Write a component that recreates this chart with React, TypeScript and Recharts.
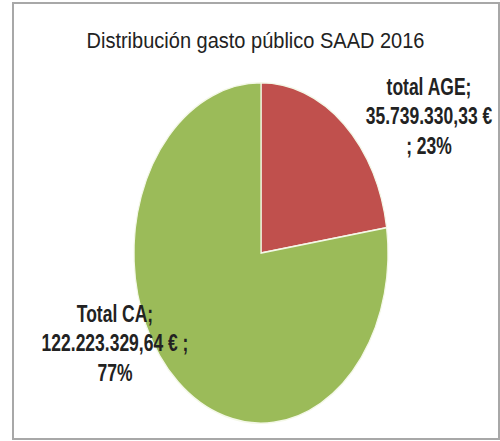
import { PieChart, Pie, Cell } from 'recharts';

const names = ['total AGE', 'Total CA'];
const values = [35739330.33, 122223329.64];
const colors = ['#C0504D', '#9BBB59'];

// the source picture is stretched vertically
const S = 1.34;

const chartData = names.map((name, i) => ({ name, value: values[i] }));

const fmt = (v: number) => {
    const [int, dec] = v.toFixed(2).split('.');
    return int.replace(/\B(?=(\d{3})+(?!\d))/g, '.') + ',' + dec;
};

// label block placement (final px, relative to pie centre)
const labelPos = [
    { dx: 168, dy: 95 - 253, breakAfterEuro: true },
    { dx: -146, dy: 322 - 253, breakAfterEuro: false },
];

const renderLabel = (props: any) => {
    const { cx, cy, index, name, value, percent } = props;
    const p = labelPos[index];
    const pct = Math.round(percent * 100) + '%';
    const lines = p.breakAfterEuro
        ? [name + ';', fmt(value) + ' €', '; ' + pct]
        : [name + ';', fmt(value) + ' € ;', pct];
    return (
        <text
            x={cx + p.dx}
            y={cy + p.dy / S}
            textAnchor="middle"
            fontFamily="'Liberation Sans', Arial, sans-serif"
            fontWeight="bold"
            fontSize={17.5}
            fill="#222"
        >
            {lines.map((l, i) => (
                <tspan key={i} x={cx + p.dx} dy={i === 0 ? 0 : 29.5 / S}>{l}</tspan>
            ))}
        </text>
    );
};

const App = () => {
  return (
    <div style={{ position: 'absolute', left: 0, top: 0, width: 500, height: 441, background: '#fff', overflow: 'hidden' }}>
        <div style={{ position: 'absolute', left: 12, top: 2, width: 484, height: 434, border: '2px solid #a8a8a8' }} />
        <div
            style={{
                position: 'absolute', left: 0, top: 29, width: 500, textAlign: 'center',
                fontFamily: "'Liberation Sans', Arial, sans-serif", fontSize: 20, lineHeight: '20px',
                color: '#222', transform: 'scaleY(1.12)', transformOrigin: '0 0', paddingLeft: 11, boxSizing: 'border-box',
            }}
        >
            Distribución gasto público SAAD 2016
        </div>
        <div style={{ position: 'absolute', left: 0, top: 0, transform: `scaleY(${S})`, transformOrigin: '0 0' }}>
            <PieChart width={500} height={441 / S} margin={{ top: 0, right: 0, bottom: 0, left: 0 }}>
                <Pie
                    data={chartData}
                    dataKey="value"
                    nameKey="name"
                    cx={261}
                    cy={253 / S}
                    outerRadius={127}
                    startAngle={90}
                    endAngle={-270}
                    stroke="#f4f8e8"
                    strokeWidth={1.2}
                    label={renderLabel}
                    labelLine={false}
                    isAnimationActive={false}
                >
                    {chartData.map((d, i) => (
                        <Cell key={d.name} fill={colors[i]} />
                    ))}
                </Pie>
            </PieChart>
        </div>
    </div>
  );
};

export default App;
